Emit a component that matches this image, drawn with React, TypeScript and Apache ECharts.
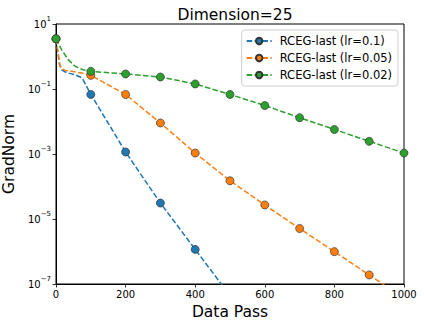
import React, { useEffect, useRef } from "react";
import * as echarts from "echarts";

const FONT = "'DejaVu Sans', sans-serif";

const seriesNames = ["RCEG-last (lr=0.1)", "RCEG-last (lr=0.05)", "RCEG-last (lr=0.02)"];
const seriesColors = ["#1f77b4", "#ff7f0e", "#2ca02c"];

const blueX = [0, 10, 16, 30, 55, 75, 88, 100, 200, 300, 400, 500];
const blueY = [3.5, 0.56, 0.39, 0.32, 0.275, 0.22, 0.12, 0.068, 1.15e-3, 3.1e-5, 1.16e-6, 4.4e-8];

const orangeX = [0, 12, 26, 45, 74, 100, 200, 300, 400, 500, 600, 700, 800, 900, 1000];
const orangeY = [3.5, 0.5, 0.37, 0.35, 0.31, 0.263, 0.068, 9e-3, 1.07e-3, 1.5e-4, 2.7e-5, 5.1e-6, 9.9e-7, 1.9e-7, 3.6e-8];

const greenX = [0, 16, 35, 55, 78, 100, 200, 300, 400, 500, 600, 700, 800, 900, 1000];
const greenY = [3.5, 1.62, 0.8, 0.5, 0.39, 0.348, 0.29, 0.234, 0.143, 0.068, 0.031, 0.0131, 5.7e-3, 2.46e-3, 1.07e-3];

const xTicks = { min: 0, max: 1000, interval: 200 };
const yRange = { min: 1e-7, max: 10 };

const allX = [blueX, orangeX, greenX];
const allY = [blueY, orangeY, greenY];

function buildData(xs: number[], ys: number[]) {
  return xs.map((x, i) => {
    const marked = x % 100 === 0 && ys[i] >= yRange.min;
    return marked ? { value: [x, ys[i]] } : { value: [x, ys[i]], symbol: "none" };
  });
}

export default function App() {
  const ref = useRef<HTMLDivElement>(null);
  useEffect(() => {
    document.body.style.margin = "0";
    const chart = echarts.init(ref.current!, null, { renderer: "svg" });
    const series = seriesNames.map((name, k) => ({
      name,
      type: "line",
      data: buildData(allX[k], allY[k]),
      showAllSymbol: true,
      symbol: "circle",
      symbolSize: 8,
      clip: true,
      color: seriesColors[k],
      lineStyle: { color: seriesColors[k], width: 1.5, type: [5.5, 2.4] },
      itemStyle: { color: seriesColors[k], borderColor: "#333", borderWidth: 0.7 },
      emphasis: { disabled: true },
    }));
    chart.setOption({
      animation: false,
      title: {
        text: "Dimension=25",
        left: 230,
        top: 2,
        textAlign: "center",
        textStyle: { fontFamily: FONT, fontSize: 15.5, fontWeight: "normal", color: "#000" },
      },
      legend: {
        orient: "vertical",
        right: 26,
        top: 30,
        padding: [4, 6, 4, 4],
        itemWidth: 25,
        itemHeight: 8,
        itemGap: 3,
        backgroundColor: "rgba(255,255,255,0.8)",
        borderColor: "#cccccc",
        borderWidth: 1,
        borderRadius: 3,
        textStyle: { fontFamily: FONT, fontSize: 11.5, color: "#000", padding: [0, 0, 0, 3], lineHeight: 14 },
        data: seriesNames,
      },
      grid: {
        left: 56, right: 20, top: 24, bottom: 43,
        containLabel: false,
        outerBoundsMode: "none",
        show: true, borderColor: "#000", borderWidth: 1, backgroundColor: "transparent",
      },
      xAxis: {
        type: "value",
        min: xTicks.min,
        max: xTicks.max,
        interval: xTicks.interval,
        name: "Data Pass",
        nameLocation: "middle",
        nameGap: 18,
        nameTextStyle: { fontFamily: FONT, fontSize: 15.5, color: "#000" },
        axisLine: { show: true, lineStyle: { color: "#000", width: 1 } },
        axisTick: { show: true, inside: false, length: 3.5, lineStyle: { color: "#000", width: 0.8 } },
        axisLabel: { fontFamily: FONT, fontSize: 10, color: "#000", margin: 5, formatter: (v: number) => String(v) },
        splitLine: { show: false },
      },
      yAxis: {
        type: "log",
        logBase: 10,
        min: yRange.min,
        max: yRange.max,
        interval: 2,
        name: "GradNorm",
        nameLocation: "middle",
        nameGap: 32,
        nameTextStyle: { fontFamily: FONT, fontSize: 15.5, color: "#000" },
        axisLine: { show: true, lineStyle: { color: "#000", width: 1 } },
        axisTick: { show: true, inside: false, length: 3.5, lineStyle: { color: "#000", width: 0.8 } },
        minorTick: { show: false },
        splitLine: { show: false },
        axisLabel: {
          margin: 5,
          padding: [0, 0, 4, 0],
          formatter: (v: number) => {
            const e = Math.round(Math.log10(v));
            const s = e < 0 ? "\u2212" + Math.abs(e) : String(e);
            return `{b|10}{s|${s}}`;
          },
          rich: {
            b: { fontFamily: FONT, fontSize: 10, color: "#000", lineHeight: 14, verticalAlign: "bottom" },
            s: { fontFamily: FONT, fontSize: 7, color: "#000", lineHeight: 8, verticalAlign: "top" },
          },
        },
      },
      series,
    });
    return () => chart.dispose();
  }, []);
  return <div ref={ref} style={{ width: 424, height: 327 }} />;
}
